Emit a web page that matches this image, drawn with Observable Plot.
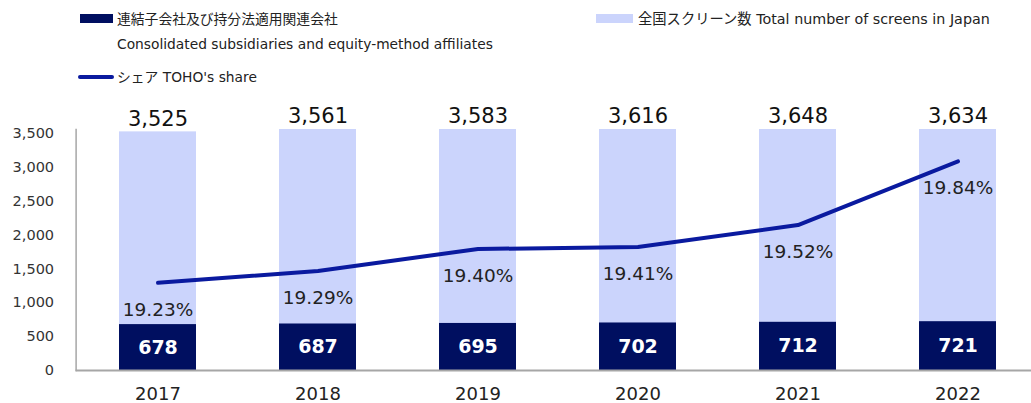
<!DOCTYPE html>
<html>
<head>
<meta charset="utf-8">
<script src="https://cdn.jsdelivr.net/npm/d3@7"></script>
<script src="https://cdn.jsdelivr.net/npm/@observablehq/plot@0.6"></script>
<style>
  html, body { margin: 0; padding: 0; background: #fff; }
  body { width: 1031px; height: 403px; position: relative; overflow: hidden;
         font-family: "DejaVu Sans", "Noto Sans CJK JP", sans-serif; color: #222; }
  #chart { position: absolute; left: 0; top: 0; }
  .lg { position: absolute; font-size: 13.8px; line-height: 16px; white-space: nowrap; color: #222; }
  .sw { position: absolute; }
</style>
</head>
<body>
<div id="chart"></div>
<div class="sw" style="left:80px;top:14px;width:33px;height:9px;background:#000f60"></div>
<div class="lg" style="left:117px;top:11px">連結子会社及び持分法適用関連会社</div>
<div class="lg" style="left:117px;top:36px">Consolidated subsidiaries and equity-method affiliates</div>
<div class="sw" style="left:78px;top:75px;width:36px;height:4px;border-radius:2px;background:#0a1a9f"></div>
<div class="lg" style="left:117px;top:69px">シェア TOHO's share</div>
<div class="sw" style="left:596px;top:14px;width:37px;height:9px;background:#cbd4fc"></div>
<div class="lg" style="left:638px;top:11px;font-size:14.3px">全国スクリーン数 Total number of screens in Japan</div>
<script>
const years = ["2017", "2018", "2019", "2020", "2021", "2022"];
const totalScreens = [3525, 3561, 3583, 3616, 3648, 3634];
const tohoScreens = [678, 687, 695, 702, 712, 721];
const tohoShare = [19.23, 19.29, 19.40, 19.41, 19.52, 19.84];
const yTicks = [0, 500, 1000, 1500, 2000, 2500, 3000, 3500];
const yDomain = [0, 3560];
const shareDomain = [18.79, 20.0]; // hidden secondary axis

const toLeft = d3.scaleLinear().domain(shareDomain).range(yDomain);
const data = years.map((year, i) => ({
  year, total: totalScreens[i], toho: tohoScreens[i], share: tohoShare[i]
}));

const chart = Plot.plot({
  width: 1031,
  height: 403,
  marginTop: 129,
  marginBottom: 33,
  marginLeft: 75.6,
  marginRight: -8.9,
  style: { fontFamily: '"DejaVu Sans", "Noto Sans CJK JP", sans-serif', background: "transparent" },
  x: { domain: years, paddingInner: 0.52, paddingOuter: 0.26, label: null },
  y: { domain: yDomain, clamp: true, label: null },
  marks: [
    Plot.barY(data, { x: "year", y: "total", fill: "#cbd4fc" }),
    Plot.barY(data, { x: "year", y: "toho", fill: "#000f60" }),
    Plot.frame({ anchor: "left", stroke: "#a6a6a6", strokeWidth: 1.5 }),
    Plot.ruleY([0], { stroke: "#a6a6a6", strokeWidth: 2 }),
    Plot.axisY({ ticks: yTicks, tickSize: 0, tickPadding: 22, tickFormat: d3.format(","), fontSize: 14.5, fill: "#333", label: null }),
    Plot.axisX({ tickSize: 0, tickPadding: 17, fontSize: 18, fill: "#222", label: null }),
    Plot.lineY(data, { x: "year", y: d => toLeft(d.share), stroke: "#0a1a9f", strokeWidth: 4, strokeLinecap: "round" }),
    Plot.text(data, { x: "year", y: "total", text: d => d3.format(",")(d.total), dy: -13, fontSize: 21, fill: "#111" }),
    Plot.text(data, { x: "year", y: d => d.toho / 2, text: d => String(d.toho), fontSize: 19, fontWeight: "bold", fill: "#fff" }),
    Plot.text(data, { x: "year", y: d => toLeft(d.share), text: d => d.share.toFixed(2) + "%", dy: 27, fontSize: 18.5, fill: "#222" })
  ]
});
document.getElementById("chart").appendChild(chart);
</script>
</body>
</html>
